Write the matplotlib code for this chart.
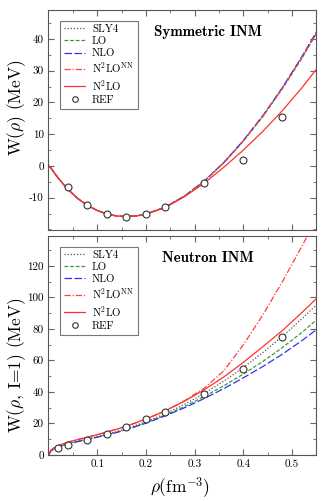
import matplotlib
matplotlib.use('Agg')
import matplotlib.pyplot as plt
from matplotlib.ticker import MultipleLocator, FixedLocator

plt.rcParams['font.family'] = 'serif'
plt.rcParams['font.serif'] = ['cmr10']
plt.rcParams['mathtext.fontset'] = 'cm'
plt.rcParams['axes.unicode_minus'] = False

# symmetric matter, W(rho) in MeV
rho_s = [0, 0.005, 0.01, 0.02, 0.04, 0.06, 0.08, 0.10, 0.12, 0.14, 0.16, 0.18,
         0.20, 0.24, 0.28, 0.32, 0.36, 0.40, 0.44, 0.48, 0.52, 0.55]
snm_sly4 = [0, -0.66, -1.76, -3.86, -7.45, -10.28, -12.46, -14.06, -15.15, -15.79, -15.96, -15.76,
            -15.17, -12.98, -9.44, -4.75, 1.06, 7.93, 15.74, 24.52, 34.19, 42.00]
snm_lo = [0, -0.66, -1.76, -3.87, -7.46, -10.29, -12.47, -14.07, -15.16, -15.80, -15.97, -15.78,
          -15.19, -13.01, -9.49, -4.82, 0.97, 7.80, 15.57, 24.30, 33.92, 41.70]
snm_nlo = [0, -0.66, -1.76, -3.86, -7.44, -10.27, -12.45, -14.05, -15.14, -15.78, -15.95, -15.75,
           -15.16, -12.96, -9.40, -4.70, 1.12, 8.02, 15.86, 24.68, 34.40, 42.30]
snm_n2lo_nn = [0, -0.66, -1.76, -3.86, -7.45, -10.28, -12.46, -14.06, -15.15, -15.79, -15.96, -15.76,
               -15.17, -12.98, -9.44, -4.76, 1.04, 7.90, 15.70, 24.47, 34.12, 41.90]
snm_n2lo = [0, -0.66, -1.76, -3.86, -7.45, -10.28, -12.46, -14.06, -15.15, -15.79, -15.96, -15.77,
            -15.20, -13.10, -9.60, -5.40, -0.40, 5.00, 10.90, 17.40, 24.60, 30.50]

# neutron matter, W(rho, I=1) in MeV
rho_n = [0, 0.005, 0.01, 0.02, 0.04, 0.06, 0.08, 0.10, 0.12, 0.14, 0.16,
         0.20, 0.24, 0.28, 0.32, 0.36, 0.40, 0.44, 0.48, 0.52, 0.55]
pnm_sly4 = [0, 2.61, 3.77, 5.28, 7.24, 8.74, 10.15, 11.60, 13.16, 14.87, 16.76,
            21.11, 26.29, 32.31, 39.19, 46.94, 55.55, 65.02, 75.33, 86.47, 95.37]
pnm_lo = [0, 2.55, 3.70, 5.20, 7.10, 8.60, 10.00, 11.40, 12.90, 14.50, 16.30,
          20.50, 25.40, 30.90, 37.20, 44.00, 51.40, 59.40, 68.20, 77.80, 85.80]
pnm_nlo = [0, 2.50, 3.65, 5.10, 7.00, 8.50, 9.90, 11.30, 12.80, 14.30, 16.10,
           20.20, 24.90, 30.10, 35.90, 42.20, 49.00, 56.20, 64.00, 72.60, 79.60]
pnm_n2lo_nn = [0, 3.00, 4.30, 6.00, 8.20, 9.80, 11.30, 12.90, 14.60, 16.40, 18.30,
               22.80, 28.10, 34.60, 42.50, 53.50, 70.00, 89.00, 110.00, 132.50, 150.00]
pnm_n2lo = [0, 3.00, 4.30, 6.00, 8.20, 9.80, 11.30, 12.90, 14.60, 16.40, 18.30,
            22.80, 28.10, 34.30, 41.50, 49.60, 58.80, 68.80, 79.00, 90.40, 99.30]

rho_ref_s = [0.04, 0.08, 0.12, 0.16, 0.20, 0.24, 0.32, 0.40, 0.48]
snm_ref = [-6.6, -12.3, -15.2, -16.2, -15.3, -13.1, -5.3, 2.0, 15.3]
rho_ref_n = [0.02, 0.04, 0.08, 0.12, 0.16, 0.20, 0.24, 0.32, 0.40, 0.48]
pnm_ref = [4.6, 6.4, 9.7, 13.1, 17.7, 22.8, 27.5, 38.7, 54.9, 75.0]

labels = ['SLY4', 'LO', 'NLO', r'N$^2$LO$^{\rm NN}$', r'N$^2$LO']
styles = [dict(color='#555555', ls=(0, (1, 1.5)), lw=0.9),
          dict(color='#3a9a3a', ls=(0, (3, 1.5)), lw=0.9),
          dict(color='#3333ee', ls=(0, (6, 2)), lw=0.9),
          dict(color='#ff4040', ls=(0, (5, 1.5, 1, 1.5)), lw=0.9),
          dict(color='#ff3030', ls='-', lw=0.9)]


def draw(ax, rho, curves, rho_ref, ref, title):
    for y, lab, st in zip(curves, labels, styles):
        ax.plot(rho, y, label=lab, **st)
    ax.plot(rho_ref, ref, 'o', mfc='white', mec='#333333', ms=5, mew=0.8, label='REF')
    ax.set_xlim(0, 0.55)
    ax.xaxis.set_major_locator(FixedLocator([0.1, 0.2, 0.3, 0.4, 0.5]))
    ax.xaxis.set_minor_locator(MultipleLocator(0.05))
    ax.tick_params(which='both', direction='in', top=True, right=True,
                   color='#666666', labelsize=8)
    ax.tick_params(which='major', length=4)
    ax.tick_params(which='minor', length=2.5)
    for s in ax.spines.values():
        s.set_color('#555555')
    leg = ax.legend(loc='upper left', bbox_to_anchor=(0.043, 0.952), fontsize=7.8,
                    frameon=True, fancybox=False, handlelength=2.0, markerscale=0.8,
                    borderpad=0.35, labelspacing=0.24, handletextpad=0.6,
                    borderaxespad=0)
    leg.get_frame().set_edgecolor('#555555')
    leg.get_frame().set_linewidth(0.8)
    ax.text(0.595, 0.9, title, transform=ax.transAxes, ha='center', va='center',
            fontsize=10.8, family='cmb10')


fig = plt.figure(figsize=(3.29, 5.01), dpi=100)
ax1 = fig.add_axes([0.1474, 0.5409, 0.8146, 0.4391])
ax2 = fig.add_axes([0.1474, 0.0918, 0.8146, 0.4371])

draw(ax1, rho_s, [snm_sly4, snm_lo, snm_nlo, snm_n2lo_nn, snm_n2lo],
     rho_ref_s, snm_ref, 'Symmetric INM')
ax1.set_ylim(-20.2, 49.1)
ax1.yaxis.set_minor_locator(MultipleLocator(5))
ax1.set_yticks([-10, 0, 10, 20, 30, 40])
ax1.tick_params(labelbottom=False)
ax1.set_ylabel(r'W$(\rho)$ (MeV)', fontsize=12.5)
ax1.yaxis.set_label_coords(-0.075, 0.555)

draw(ax2, rho_n, [pnm_sly4, pnm_lo, pnm_nlo, pnm_n2lo_nn, pnm_n2lo],
     rho_ref_n, pnm_ref, 'Neutron INM')
ax2.set_ylim(0, 139)
ax2.yaxis.set_major_locator(MultipleLocator(20))
ax2.yaxis.set_minor_locator(MultipleLocator(10))
ax2.set_ylabel(r'W$(\rho$, I=1) (MeV)', fontsize=12.5)
ax2.yaxis.set_label_coords(-0.075, 0.41)
ax2.set_xlabel(r'$\rho$(fm$^{-3}$)', fontsize=12.5)
ax2.xaxis.set_label_coords(0.49, -0.09)

fig.savefig('out.png', dpi=100)
